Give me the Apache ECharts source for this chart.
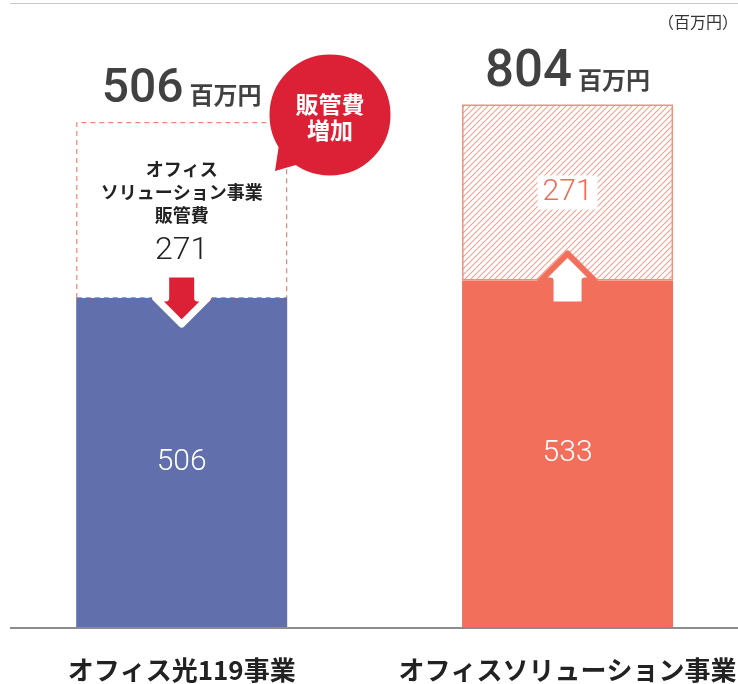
<!DOCTYPE html>
<html>
<head>
<meta charset="utf-8">
<script src="https://cdn.jsdelivr.net/npm/echarts@6/dist/echarts.min.js"></script>
<style>
html, body { margin: 0; padding: 0; background: #fff; }
#main { width: 738px; height: 684px; }
</style>
</head>
<body>
<div id="main"></div>
<script>
// data
var categories = ['オフィス光119事業', 'オフィスソリューション事業'];
var baseValues = [506, 533];
var sgaValues = [271, 271];
var totalValues = [506, 804];
var boxLines = ['オフィス', 'ソリューション事業', '販管費'];
var unitText = '（百万円）';
var bubbleText = '販管費\n増加';

var jp = '"Noto Sans CJK JP", sans-serif';
var num = 'Roboto, "Noto Sans CJK JP", sans-serif';

var chart = echarts.init(document.getElementById('main'));

// hatch fill for the added cost part
function hatch() {
    var c = document.createElement('canvas');
    c.width = 6; c.height = 6;
    var g = c.getContext('2d');
    g.fillStyle = '#fff';
    g.fillRect(0, 0, 6, 6);
    g.strokeStyle = '#F5A090';
    g.lineWidth = 1.1;
    g.beginPath();
    g.moveTo(0, 6); g.lineTo(6, 0);
    g.moveTo(-1, 1); g.lineTo(1, -1);
    g.moveTo(5, 7); g.lineTo(7, 5);
    g.stroke();
    return c;
}

var baseColors = ['#6170AD', '#F2705B'];

var option = {
    animation: false,
    // category bands wider than the canvas so the two bars sit where the original puts them
    grid: { left: -11.25, right: -22.5, top: 42, bottom: 57, outerBoundsMode: 'none', containLabel: false },
    title: {
        text: unitText, right: 0, top: 14, padding: 0,
        textStyle: { fontSize: 16, fontWeight: 'normal', color: '#333', fontFamily: jp }
    },
    xAxis: {
        type: 'category',
        data: categories,
        axisTick: { show: false },
        axisLine: { show: false },
        axisLabel: {
            margin: 30,
            color: '#222',
            fontSize: 26,
            fontWeight: 'bold',
            fontFamily: jp,
            interval: 0
        }
    },
    yAxis: { type: 'value', min: 0, max: 900, show: false },
    series: [
        {
            name: 'base',
            type: 'bar',
            stack: 'a',
            barWidth: 211,
            data: baseValues.map(function (v, i) {
                return { value: v, itemStyle: { color: baseColors[i] } };
            }),
            label: {
                show: true,
                position: 'inside',
                color: '#fff',
                fontSize: 30,
                fontWeight: 300,
                fontFamily: num
            }
        },
        {
            name: 'sga',
            type: 'bar',
            stack: 'a',
            barWidth: 211,
            data: [
                {
                    value: sgaValues[0],
                    itemStyle: { color: '#fff', borderColor: '#F08573', borderWidth: 1.2, borderType: [5, 4] },
                    label: {
                        show: true,
                        position: 'insideTop',
                        distance: 36,
                        formatter: boxLines.map(function (t) { return '{t|' + t + '}'; }).join('\n') + '\n{n|' + sgaValues[0] + '}',
                        rich: {
                            t: { fontSize: 18, fontWeight: 'bold', color: '#222', fontFamily: jp, lineHeight: 23 },
                            n: { fontSize: 32, fontWeight: 300, color: '#222', fontFamily: num, lineHeight: 48 }
                        }
                    }
                },
                {
                    value: sgaValues[1],
                    itemStyle: { color: { image: hatch(), repeat: 'repeat' }, borderColor: '#F3907C', borderWidth: 1.5 },
                    label: {
                        show: true,
                        position: 'inside',
                        color: '#F06A55',
                        backgroundColor: '#fff',
                        padding: [2, 5],
                        fontSize: 30,
                        fontWeight: 300,
                        fontFamily: num
                    }
                }
            ]
        },
        {
            name: 'total',
            type: 'scatter',
            symbolSize: 0,
            data: baseValues.map(function (v, i) { return [i, v + sgaValues[i]]; }),
            label: {
                show: true,
                position: 'top',
                formatter: function (p) {
                    var k = p.dataIndex === 0 ? 'a' : 'c';
                    return '{' + k + '|' + totalValues[p.dataIndex] + '}{b|百万円}';
                },
                rich: {
                    a: { fontSize: 48, fontWeight: 500, color: '#111', fontFamily: num, verticalAlign: 'bottom', lineHeight: 50 },
                    c: { fontSize: 51, fontWeight: 500, color: '#111', fontFamily: num, verticalAlign: 'bottom', lineHeight: 54 },
                    b: { fontSize: 24, fontWeight: 'bold', color: '#111', fontFamily: jp, verticalAlign: 'bottom', lineHeight: 34, padding: [0, 0, 7, 6] }
                }
            }
        }
    ]
};
// per-bar gap between stack top and headline
option.series[2].data = option.series[2].data.map(function (d, i) {
    return { value: d, label: { distance: i === 0 ? 8 : 6 } };
});
chart.setOption(option);

// decorations placed from the bar tops
var leftTop = chart.convertToPixel({ gridIndex: 0 }, [0, baseValues[0]]);
var rightTop = chart.convertToPixel({ gridIndex: 0 }, [1, baseValues[1]]);
var zeroY = chart.convertToPixel({ yAxisIndex: 0 }, 0);

function arrowDown(cx, y) {
    return [[cx - 16, y - 24], [cx + 16, y - 24], [cx + 16, y], [cx + 26, y], [cx, y + 26], [cx - 26, y], [cx - 16, y]];
}
function arrowUp(cx, y) {
    return [[cx - 17, y + 24], [cx + 17, y + 24], [cx + 17, y], [cx + 27, y], [cx, y - 27], [cx - 27, y], [cx - 17, y]];
}

chart.setOption({
    graphic: [
        { type: 'line', shape: { x1: 10, y1: 3.5, x2: 738, y2: 3.5 }, style: { stroke: '#c8c8c8', lineWidth: 1 } },
        { type: 'line', z: 5, shape: { x1: 10, y1: zeroY + 1, x2: 738, y2: zeroY + 1 }, style: { stroke: '#8c8c8c', lineWidth: 2 } },
        {
            type: 'polygon', z: 10,
            shape: { points: arrowDown(leftTop[0], leftTop[1]) },
            style: { fill: '#DC2035', stroke: '#fff', lineWidth: 7, lineJoin: 'round' }
        },
        {
            type: 'polygon', z: 10,
            shape: { points: arrowUp(rightTop[0], rightTop[1]) },
            style: { fill: '#fff', stroke: '#F2705B', lineWidth: 6, lineJoin: 'round' }
        },
        {
            type: 'circle', z: 11,
            shape: { cx: 330, cy: 115, r: 62 },
            style: { fill: '#DC2035', stroke: '#fff', lineWidth: 3 }
        },
        {
            type: 'polygon', z: 12,
            shape: { points: [[280, 138], [275, 171], [320, 158]] },
            style: { fill: '#DC2035' }
        },
        {
            type: 'text', z: 13, x: 330, y: 117,
            style: {
                text: bubbleText, fill: '#fff', fontSize: 23, fontWeight: 'bold', fontFamily: jp,
                lineHeight: 26, align: 'center', verticalAlign: 'middle'
            }
        }
    ]
});
</script>
</body>
</html>
